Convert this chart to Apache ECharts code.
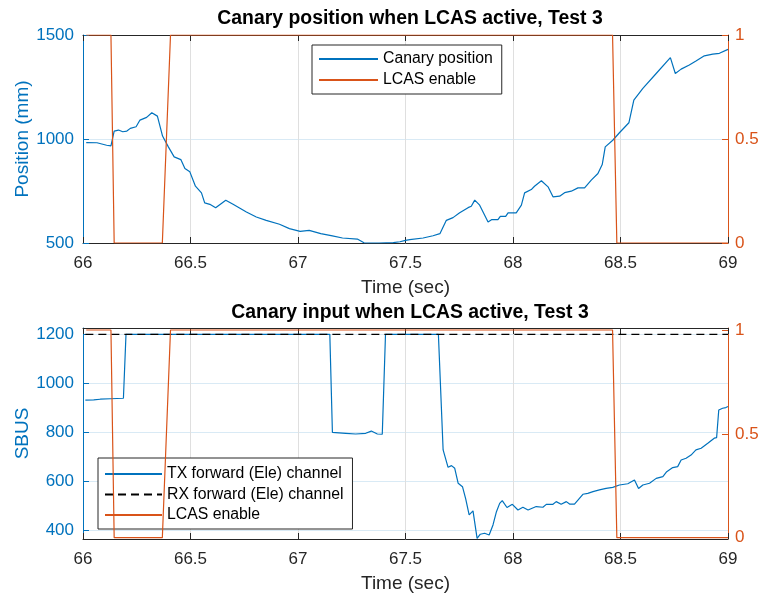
<!DOCTYPE html>
<html>
<head>
<meta charset="utf-8">
<script src="https://cdn.jsdelivr.net/npm/echarts@6/dist/echarts.min.js"></script>
<style>
  html, body { margin: 0; padding: 0; background: #fff; }
  #chart { width: 760px; height: 596px; }
</style>
</head>
<body>
<div id="chart"></div>
<script>
// ---- Canary position (mm), top panel ----
const posTime = [66.015, 66.065, 66.11, 66.13, 66.145, 66.165, 66.185, 66.204, 66.22, 66.247, 66.265, 66.296, 66.32, 66.346, 66.37, 66.397, 66.424, 66.455, 66.474, 66.497, 66.523, 66.551, 66.566, 66.59, 66.617, 66.664, 66.698, 66.76, 66.806, 66.852, 66.914, 66.96, 67.01, 67.052, 67.106, 67.16, 67.207, 67.276, 67.307, 67.377, 67.443, 67.474, 67.5, 67.52, 67.582, 67.628, 67.66, 67.69, 67.721, 67.752, 67.791, 67.806, 67.822, 67.845, 67.884, 67.9, 67.93, 67.941, 67.966, 67.977, 68.015, 68.039, 68.054, 68.085, 68.1, 68.132, 68.163, 68.186, 68.217, 68.24, 68.271, 68.302, 68.333, 68.364, 68.395, 68.415, 68.429, 68.464, 68.495, 68.539, 68.562, 68.604, 68.666, 68.732, 68.755, 68.782, 68.82, 68.851, 68.89, 68.929, 68.96, 69.0];
const posValue = [983, 982, 970, 967, 1038, 1043, 1035, 1038, 1051, 1059, 1091, 1104, 1126, 1110, 1014, 962, 914, 901, 858, 842, 773, 741, 693, 686, 669, 706, 686, 649, 625, 609, 590, 569, 556, 561, 545, 534, 524, 519, 501, 500, 502, 506, 513, 516, 524, 535, 545, 609, 622, 645, 670, 677, 706, 682, 601, 612, 612, 628, 628, 645, 645, 682, 741, 757, 773, 799, 770, 722, 725, 742, 749, 765, 765, 802, 834, 877, 962, 994, 1030, 1078, 1187, 1243, 1315, 1391, 1315, 1336, 1356, 1375, 1400, 1408, 1412, 1431];

// ---- LCAS enable flag (both panels) ----
const lcasTime = [66.015, 66.13, 66.145, 66.369, 66.407, 68.463, 68.483, 69.0];
const lcasValue = [1, 1, 0, 0, 1, 1, 0, 0];

// ---- SBUS TX forward (Ele) channel, bottom panel ----
const txTime = [66.011, 66.05, 66.08, 66.127, 66.188, 66.2, 67.148, 67.16, 67.222, 67.268, 67.315, 67.341, 67.369, 67.392, 67.407, 67.653, 67.675, 67.698, 67.714, 67.729, 67.745, 67.765, 67.78, 67.796, 67.814, 67.833, 67.848, 67.868, 67.889, 67.907, 67.923, 67.938, 67.95, 67.972, 67.997, 68.023, 68.046, 68.07, 68.108, 68.139, 68.155, 68.186, 68.201, 68.224, 68.248, 68.263, 68.286, 68.325, 68.348, 68.372, 68.402, 68.433, 68.464, 68.495, 68.534, 68.565, 68.584, 68.604, 68.635, 68.666, 68.697, 68.715, 68.743, 68.766, 68.782, 68.805, 68.828, 68.851, 68.875, 68.906, 68.936, 68.947, 68.957, 68.975, 68.99, 69.0];
const txValue = [931, 932, 935, 937, 939, 1200, 1200, 800, 796, 793, 796, 805, 793, 792, 1200, 1200, 728, 657, 664, 653, 592, 578, 528, 463, 479, 367, 384, 388, 381, 422, 476, 510, 521, 493, 506, 483, 494, 483, 497, 494, 506, 506, 517, 506, 517, 507, 507, 547, 551, 558, 565, 571, 575, 585, 590, 605, 571, 585, 592, 612, 619, 639, 656, 660, 687, 694, 707, 728, 735, 755, 776, 778, 891, 898, 901, 905];

// ---- SBUS RX forward (Ele) channel ----
const rxTime = [66.011, 69.0];
const rxValue = [1200, 1200];

// ---- tick labels ----
const sbusTicks = [400, 600, 800, 1000, 1200];
const flagTicks = [0, 0.5, 1];

const BLUE = '#0072BD';
const ORANGE = '#D95319';
const DARK = '#262626';
const FONT = '"Liberation Sans", Arial, Helvetica, sans-serif';

const zip = (xs, ys) => xs.map((x, i) => [x, ys[i]]);
const plain = v => String(v);

function timeAxis(grid) {
  return {
    type: 'value', gridIndex: grid, min: 66, max: 69, interval: 0.5,
    position: 'bottom',
    name: 'Time (sec)', nameLocation: 'middle', nameGap: 35, nameMoveOverlap: false,
    nameTextStyle: { color: DARK, fontSize: 19, fontFamily: FONT },
    axisLine: { onZero: false, lineStyle: { color: DARK, width: 1 } },
    axisTick: { inside: true, length: 6, lineStyle: { color: DARK } },
    axisLabel: { color: DARK, fontSize: 17, fontFamily: FONT, margin: 12, formatter: plain },
    splitLine: { show: true, lineStyle: { color: '#dfdfdf', width: 1 } }
  };
}
function topBoxAxis(grid) {
  return {
    type: 'value', gridIndex: grid, min: 66, max: 69, interval: 0.5, position: 'top',
    axisLine: { onZero: false, lineStyle: { color: DARK, width: 1 } },
    axisTick: { inside: true, length: 6, lineStyle: { color: DARK } },
    axisLabel: { show: false }, splitLine: { show: false }
  };
}
function legendBox(names, left, top, itemWidth, gap, pad) {
  return {
    data: names, left: left, top: top, orient: 'vertical',
    itemWidth: itemWidth, itemHeight: 14, itemGap: gap, padding: pad,
    borderColor: DARK, borderWidth: 1, backgroundColor: '#fff', selectedMode: false,
    itemStyle: { opacity: 0 },
    textStyle: { fontSize: 15.8, color: '#000', fontFamily: FONT }
  };
}

const chart = echarts.init(document.getElementById('chart'), null, { renderer: 'canvas' });

chart.setOption({
  backgroundColor: '#ffffff',
  animation: false,
  title: [
    { text: 'Canary position when LCAS active, Test 3', left: 405, top: 4, textAlign: 'center',
      textStyle: { fontSize: 19.4, fontWeight: 'bold', color: '#000', fontFamily: FONT } },
    { text: 'Canary input when LCAS active, Test 3', left: 405, top: 298, textAlign: 'center',
      textStyle: { fontSize: 19.4, fontWeight: 'bold', color: '#000', fontFamily: FONT } }
  ],
  grid: [
    { left: 83, top: 35, width: 645, height: 208, outerBoundsMode: 'none', containLabel: false },
    { left: 83, top: 328, width: 645, height: 211, outerBoundsMode: 'none', containLabel: false }
  ],
  legend: [
    legendBox(['Canary position', 'LCAS enable'], 312, 45, 59, 5, [6, 9, 6, 6]),
    legendBox(['TX forward (Ele) channel', 'RX forward (Ele) channel', 'LCAS enable'], 98, 458, 57, 4.5, [8, 9, 6, 6])
  ],
  xAxis: [timeAxis(0), topBoxAxis(0), timeAxis(1), topBoxAxis(1)],
  yAxis: [
    { type: 'value', gridIndex: 0, min: 500, max: 1500, interval: 500, position: 'left',
      name: 'Position (mm)', nameLocation: 'middle', nameGap: 51, nameMoveOverlap: false,
      nameTextStyle: { color: BLUE, fontSize: 19, fontFamily: FONT },
      axisLine: { show: true, lineStyle: { color: BLUE } },
      axisTick: { show: true, inside: true, length: 6, lineStyle: { color: BLUE } },
      axisLabel: { color: BLUE, fontSize: 17, fontFamily: FONT, margin: 9, formatter: plain },
      splitLine: { show: true, lineStyle: { color: '#d9eaf5' } } },
    { type: 'value', gridIndex: 0, min: 0, max: 1, interval: 0.5, position: 'right',
      axisLine: { show: true, lineStyle: { color: ORANGE } },
      axisTick: { show: true, inside: true, length: 6, lineStyle: { color: ORANGE } },
      axisLabel: { color: ORANGE, fontSize: 17, fontFamily: FONT, margin: 7, formatter: plain },
      splitLine: { show: false } },
    { type: 'value', gridIndex: 1, min: 364.5, max: 1225.7, position: 'left',
      name: 'SBUS', nameLocation: 'middle', nameGap: 51, nameMoveOverlap: false,
      nameTextStyle: { color: BLUE, fontSize: 19, fontFamily: FONT },
      axisLine: { show: true, lineStyle: { color: BLUE } },
      axisTick: { show: true, inside: true, length: 6, lineStyle: { color: BLUE }, customValues: sbusTicks },
      axisLabel: { color: BLUE, fontSize: 17, fontFamily: FONT, margin: 9, customValues: sbusTicks, formatter: plain },
      splitLine: { show: true, lineStyle: { color: '#d9eaf5' } } },
    { type: 'value', gridIndex: 1, min: -0.0063, max: 1.0096, position: 'right',
      axisLine: { show: true, lineStyle: { color: ORANGE } },
      axisTick: { show: true, inside: true, length: 6, lineStyle: { color: ORANGE }, customValues: flagTicks },
      axisLabel: { color: ORANGE, fontSize: 17, fontFamily: FONT, margin: 7, customValues: flagTicks, formatter: plain },
      splitLine: { show: false } }
  ],
  series: [
    { name: 'Canary position', type: 'line', xAxisIndex: 0, yAxisIndex: 0, data: zip(posTime, posValue),
      symbol: 'none', lineStyle: { color: BLUE, width: 1.2 }, itemStyle: { color: BLUE }, z: 3 },
    { name: 'LCAS enable', type: 'line', xAxisIndex: 0, yAxisIndex: 1, data: zip(lcasTime, lcasValue),
      symbol: 'none', lineStyle: { color: ORANGE, width: 1.2 }, itemStyle: { color: ORANGE }, z: 4 },
    { name: 'TX forward (Ele) channel', type: 'line', xAxisIndex: 2, yAxisIndex: 2, data: zip(txTime, txValue),
      symbol: 'none', lineStyle: { color: BLUE, width: 1.2 }, itemStyle: { color: BLUE }, z: 3 },
    { name: 'RX forward (Ele) channel', type: 'line', xAxisIndex: 2, yAxisIndex: 2, data: zip(rxTime, rxValue),
      symbol: 'none', lineStyle: { color: '#000', width: 1.2, type: [8, 5] }, itemStyle: { color: '#000' }, z: 4 },
    { name: 'LCAS enable', type: 'line', xAxisIndex: 2, yAxisIndex: 3, data: zip(lcasTime, lcasValue),
      symbol: 'none', lineStyle: { color: ORANGE, width: 1.2 }, itemStyle: { color: ORANGE }, z: 5 }
  ]
});
</script>
</body>
</html>
